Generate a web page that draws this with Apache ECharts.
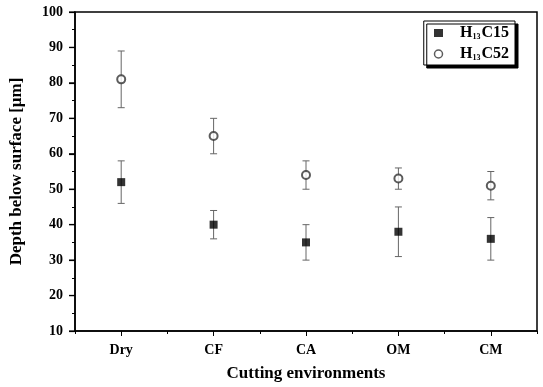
<!DOCTYPE html>
<html>
<head>
<meta charset="utf-8">
<script src="https://cdn.jsdelivr.net/npm/echarts@6/dist/echarts.min.js"></script>
<style>
  html, body { margin: 0; padding: 0; background: #fff; }
  #chart { width: 543px; height: 387px; }
</style>
</head>
<body>
<div id="chart"></div>
<script>
var categories = ['Dry', 'CF', 'CA', 'OM', 'CM'];
// H13C15 (filled squares)
var c15Mean = [52, 40, 35, 38, 36];
var c15Low  = [46, 36, 30, 31, 30];
var c15High = [58, 44, 40, 45, 42];
// H13C52 (hollow circles)
var c52Mean = [81, 65, 54, 53, 51];
var c52Low  = [73, 60, 50, 50, 47];
var c52High = [89, 70, 58, 56, 55];
var yTickValues = [10, 20, 30, 40, 50, 60, 70, 80, 90, 100];

var font = 'Liberation Serif';

function errorData(low, high) {
    return categories.map(function (c, i) { return [i, low[i], high[i]]; });
}

function renderError(params, api) {
    var x = api.value(0);
    var lo = api.coord([x, api.value(1)]);
    var hi = api.coord([x, api.value(2)]);
    var w = 3.5;
    var style = { stroke: '#666', lineWidth: 1 };
    return {
        type: 'group',
        children: [
            { type: 'line', shape: { x1: lo[0], y1: lo[1], x2: hi[0], y2: hi[1] }, style: style },
            { type: 'line', shape: { x1: lo[0] - w, y1: lo[1], x2: lo[0] + w, y2: lo[1] }, style: style },
            { type: 'line', shape: { x1: hi[0] - w, y1: hi[1], x2: hi[0] + w, y2: hi[1] }, style: style }
        ]
    };
}

// major y ticks, drawn next to the axis line
function renderYTick(params, api) {
    var y = api.coord([0, api.value(0)])[1];
    var x0 = params.coordSys.x;
    return {
        type: 'rect',
        shape: { x: x0 - 6, y: y - 0.6, width: 6, height: 1.2 },
        style: { fill: '#000' }
    };
}

var chart = echarts.init(document.getElementById('chart'));
var option = {
    animation: false,
    backgroundColor: '#fff',
    grid: { left: 75, right: 6, top: 12, bottom: 55, show: true, borderColor: '#000', borderWidth: 1.5 },
    legend: {
        right: 28, top: 21,
        orient: 'vertical',
        itemGap: 5,
        itemWidth: 9, itemHeight: 8,
        padding: [4, 6, 3, 10],
        backgroundColor: '#fff',
        borderColor: '#000', borderWidth: 1,
        shadowColor: '#000', shadowOffsetX: 3, shadowOffsetY: 3, shadowBlur: 0,
        data: [
            { name: 'H13C15', itemStyle: { color: '#000' } },
            { name: 'H13C52', itemStyle: { color: '#fff', borderColor: '#333', borderWidth: 1.5 } }
        ],
        formatter: function (n) { return '{b|H}{s|13}{b|' + n.slice(3) + '}'; },
        textStyle: {
            padding: [0, 0, 0, 12],
            rich: {
                b: { fontFamily: font, fontWeight: 'bold', fontSize: 16, color: '#000' },
                s: { fontFamily: font, fontWeight: 'bold', fontSize: 8, color: '#000', verticalAlign: 'bottom', padding: [7, 1, 0, 0] }
            }
        }
    },
    xAxis: [{
        type: 'category',
        data: categories,
        name: 'Cutting environments',
        nameLocation: 'middle',
        nameGap: 34,
        nameTextStyle: { fontFamily: font, fontWeight: 'bold', fontSize: 17, color: '#000' },
        axisLine: { lineStyle: { color: '#000', width: 1.5 } },
        axisTick: { show: true, alignWithLabel: true, length: 5, lineStyle: { color: '#000' } },
        axisLabel: { fontFamily: font, fontWeight: 'bold', fontSize: 14, color: '#000', margin: 12 },
        splitLine: { show: false }
    }, {
        type: 'category',
        data: categories,
        position: 'bottom',
        axisLine: { show: false },
        axisTick: { show: true, length: 3, lineStyle: { color: '#000' } },
        axisLabel: { show: false },
        splitLine: { show: false }
    }],
    yAxis: {
        type: 'value',
        min: yTickValues[0], max: yTickValues[yTickValues.length - 1], interval: 10,
        name: 'Depth below surface [\u03bcm]',
        nameLocation: 'middle',
        nameGap: 50,
        nameTextStyle: { fontFamily: font, fontWeight: 'bold', fontSize: 17, color: '#000' },
        axisLine: { show: true, lineStyle: { color: '#000', width: 1.5 } },
        axisTick: { show: true, length: 6, lineStyle: { color: '#000', width: 1.2 } },
        minorTick: { show: true, splitNumber: 2, length: 3, lineStyle: { color: '#000', width: 1 } },
        axisLabel: { fontFamily: font, fontWeight: 'bold', fontSize: 14, color: '#000', margin: 12 },
        splitLine: { show: false }
    },
    series: [{
        type: 'custom',
        renderItem: renderYTick,
        data: yTickValues.map(function (v) { return [v]; }),
        encode: { y: 0 },
        clip: false,
        silent: true,
        zlevel: 2, z: 10
    }, {
        type: 'custom',
        renderItem: renderError,
        data: errorData(c15Low, c15High),
        encode: { x: 0, y: [1, 2] },
        silent: true, z: 1
    }, {
        type: 'custom',
        renderItem: renderError,
        data: errorData(c52Low, c52High),
        encode: { x: 0, y: [1, 2] },
        silent: true, z: 1
    }, {
        name: 'H13C15',
        type: 'scatter',
        data: c15Mean,
        symbol: 'rect',
        symbolSize: 8,
        itemStyle: { color: '#000' },
        z: 3
    }, {
        name: 'H13C52',
        type: 'scatter',
        data: c52Mean,
        symbol: 'circle',
        symbolSize: 8,
        itemStyle: { color: '#fff', borderColor: '#333', borderWidth: 2 },
        z: 3
    }]
};
chart.setOption(option);
window.addEventListener('resize', function () { chart.resize(); });
</script>
</body>
</html>
